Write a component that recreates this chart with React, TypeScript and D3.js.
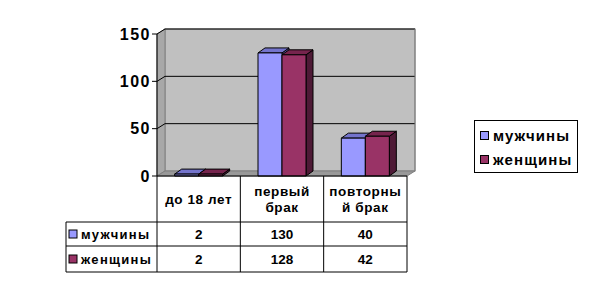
import React from "react";
import * as d3 from "d3";

const categories = ["до 18 лет", "первый брак", "повторный брак"];
const categoryLines = [["до 18 лет"], ["первый", "брак"], ["повторны", "й брак"]];
const seriesNames = ["мужчины", "женщины"];
const menValues = [2, 130, 40];
const womenValues = [2, 128, 42];
const yTicks = [0, 50, 100, 150];

const seriesValues = [menValues, womenValues];
const colors = [
  { front: "#9999FF", top: "#7474CC", side: "#5c5ca8" },
  { front: "#993366", top: "#76244D", side: "#4E1A36" },
];

const FONT = "'Liberation Sans', Arial, sans-serif";

export default function App() {
  const W = 590, H = 294;
  const x0 = 157, x1 = 407;
  const wdx = 8, wdy = -5; // wall depth
  const bdx = 7, bdy = -5; // bar depth
  const y = d3.scaleLinear().domain([0, 150]).range([176, 34]);
  const xBand = d3.scaleBand<string>().domain(categories).range([x0, x1]).paddingInner(0).paddingOuter(0);
  const groupW = 48;
  const xSeries = d3.scaleBand<string>().domain(seriesNames).range([0, groupW]).padding(0);

  const yb = (v: number) => y(v) + wdy; // back wall
  const backL = x0 + wdx, backR = x1 + wdx;

  const tableTop = y(0);
  const headerBottom = 222, row1Bottom = 246, row2Bottom = 272, tableLeft = 66;

  const bars: React.ReactNode[] = [];
  categories.forEach((c, ci) => {
    const gx = (xBand(c) as number) + (xBand.bandwidth() - groupW) / 2;
    seriesNames.forEach((s, si) => {
      const v = seriesValues[si][ci];
      const bx = gx + (xSeries(s) as number);
      const bw = xSeries.bandwidth();
      const yt = y(v), yB = y(0);
      const col = colors[si];
      bars.push(
        <g key={`${ci}-${si}`} stroke="#000" strokeWidth={1} strokeLinejoin="round">
          <path d={`M${bx + bw},${yB}L${bx + bw + bdx},${yB + bdy}L${bx + bw + bdx},${yt + bdy}L${bx + bw},${yt}Z`} fill={col.side} />
          <path d={`M${bx},${yt}L${bx + bdx},${yt + bdy}L${bx + bw + bdx},${yt + bdy}L${bx + bw},${yt}Z`} fill={col.top} />
          <rect x={bx} y={yt} width={bw} height={yB - yt} fill={col.front} />
        </g>
      );
    });
  });

  return (
    <svg width={W} height={H} style={{ position: "absolute", left: 0, top: 0, display: "block" }} fontFamily={FONT}>
      <rect width={W} height={H} fill="#fff" />
      {/* back wall */}
      <rect x={backL} y={yb(150)} width={backR - backL} height={yb(0) - yb(150)} fill="#C0C0C0" stroke="#808080" strokeWidth={1} />
      {/* side wall */}
      <path d={`M${x0},${y(0)}L${backL},${yb(0)}L${backL},${yb(150)}L${x0},${y(150)}Z`} fill="#A8A8A8" stroke="#808080" strokeWidth={1} />
      {/* floor */}
      <path d={`M${x0},${y(0)}L${backL},${yb(0)}L${backR},${yb(0)}L${x1},${y(0)}Z`} fill="#999999" stroke="#808080" strokeWidth={1} />
      {/* gridlines */}
      {yTicks.filter((t) => t > 0).map((t) => (
        <g key={t} stroke="#000" strokeWidth={1}>
          <line x1={x0} y1={y(t)} x2={backL} y2={yb(t)} />
          <line x1={backL} y1={yb(t)} x2={backR} y2={yb(t)} />
        </g>
      ))}
      <line x1={backR} y1={yb(150)} x2={backR} y2={yb(0)} stroke="#808080" />
      {bars}
      {/* axis */}
      <line x1={x0} y1={y(150)} x2={x0} y2={y(0)} stroke="#000" />
      {yTicks.map((t) => (
        <g key={t}>
          <line x1={x0 - 5} y1={y(t)} x2={x0} y2={y(t)} stroke="#000" />
          <text x={x0 - 6} y={y(t)} dy="0.36em" textAnchor="end" fontSize={16} fontWeight="bold" letterSpacing={1.5}>
            {t}
          </text>
        </g>
      ))}
      {/* data table */}
      <g stroke="#000" strokeWidth={1} fill="none">
        <line x1={x0} y1={tableTop} x2={x1} y2={tableTop} />
        <line x1={tableLeft} y1={headerBottom} x2={x1} y2={headerBottom} />
        <line x1={tableLeft} y1={row1Bottom} x2={x1} y2={row1Bottom} />
        <line x1={tableLeft} y1={row2Bottom} x2={x1} y2={row2Bottom} />
        <line x1={tableLeft} y1={headerBottom} x2={tableLeft} y2={row2Bottom} />
        <line x1={x0} y1={tableTop} x2={x0} y2={row2Bottom} />
        {categories.map((c) => (
          <line key={c} x1={(xBand(c) as number) + xBand.bandwidth()} y1={tableTop} x2={(xBand(c) as number) + xBand.bandwidth()} y2={row2Bottom} />
        ))}
      </g>
      {categories.map((c, ci) => {
        const cx = (xBand(c) as number) + xBand.bandwidth() / 2;
        const lines = categoryLines[ci];
        const cy = (tableTop + headerBottom) / 2;
        return (
          <text key={c} x={cx} textAnchor="middle" fontSize={13.5} fontWeight="bold" letterSpacing={0.6}>
            {lines.map((l, li) => (
              <tspan key={li} x={cx} y={cy + (li - (lines.length - 1) / 2) * 16} dy="0.36em">
                {l}
              </tspan>
            ))}
          </text>
        );
      })}
      {seriesNames.map((s, si) => {
        const top = si === 0 ? headerBottom : row1Bottom;
        const bot = si === 0 ? row1Bottom : row2Bottom;
        const cy = (top + bot) / 2;
        return (
          <g key={s}>
            <rect x={69} y={cy - 4} width={8} height={8} fill={colors[si].front} stroke="#000" />
            <text x={81} y={cy} dy="0.36em" fontSize={13} fontWeight="bold" letterSpacing={1.3}>
              {s}
            </text>
            {categories.map((c, ci) => (
              <text key={c} x={(xBand(c) as number) + xBand.bandwidth() / 2} y={cy} dy="0.36em" textAnchor="middle" fontSize={13.5} fontWeight="bold">
                {seriesValues[si][ci]}
              </text>
            ))}
          </g>
        );
      })}
      {/* legend */}
      <rect x={474.5} y={120.5} width={103} height={52} fill="#fff" stroke="#000" />
      {seriesNames.map((s, si) => {
        const cy = 136 + si * 24;
        return (
          <g key={s}>
            <rect x={480.5} y={cy - 4.5} width={8} height={8} fill={colors[si].front} stroke="#000" />
            <text x={493} y={cy} dy="0.36em" fontSize={15} fontWeight="bold" letterSpacing={1.1}>
              {s}
            </text>
          </g>
        );
      })}
    </svg>
  );
}
